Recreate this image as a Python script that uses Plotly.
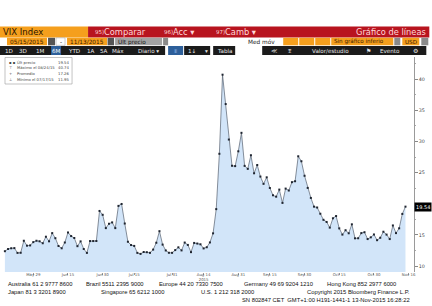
import pandas as pd
import plotly.graph_objects as go

# ---------------- data ----------------
holidays = ["2015-05-25", "2015-07-03", "2015-09-07"]
dates = [d for d in pd.bdate_range("2015-05-15", "2015-11-13").strftime("%Y-%m-%d") if d not in holidays]

vix = [
    12.38, 12.73, 12.85, 12.88, 12.11, 12.13, 14.06, 13.27, 13.31, 13.84,
    14.06, 13.97, 13.66, 14.71, 13.97, 15.29, 14.47, 13.22, 12.85, 13.78,
    15.39, 14.81, 14.50, 13.19, 13.96, 12.74, 12.11, 14.01, 14.01, 14.02,
    18.85, 18.23,
    16.09, 16.79, 17.01, 16.09, 19.66, 19.97, 16.83, 13.90, 13.37, 13.23,
    12.11, 11.95, 12.25, 12.22, 12.12, 12.64, 13.74, 15.60, 13.44, 12.50,
    12.13, 12.12,
    12.56, 13.00, 12.51, 13.77, 13.39, 12.23, 13.71, 13.61, 13.49, 12.83,
    13.02, 13.79, 15.25, 19.14, 28.03, 40.74, 36.02, 30.32, 26.10, 26.05,
    28.43,
    31.40, 26.09, 25.61, 27.80, 24.90, 26.23, 24.37, 23.20, 24.25, 22.54,
    21.35, 21.14, 22.28, 20.14, 22.44, 22.13, 23.47, 23.62, 27.63, 26.83,
    24.50,
    22.55, 20.94, 19.54, 19.40, 18.40, 17.42, 17.08, 16.17, 17.67, 18.03,
    16.05, 15.05, 15.75, 15.26, 16.70, 14.45, 14.46, 15.29, 15.43, 14.33,
    14.61, 15.07,
    14.15, 14.54, 15.51, 15.05, 14.33, 16.52, 15.29, 16.06, 18.37, 19.54,
]

tick_dates = ["2015-05-29", "2015-06-15", "2015-06-30", "2015-07-15", "2015-07-31", "2015-08-14",
              "2015-08-31", "2015-09-15", "2015-09-30", "2015-10-15", "2015-10-30", "2015-11-16"]
tick_text = ["May 29", "Jun 15", "Jun 30", "Jul 15", "Jul 31", "Aug 14<br>2015",
             "Aug 31", "Sep 15", "Sep 30", "Oct 15", "Oct 30", "Nov 16"]
y_ticks = [10, 15, 20, 25, 30, 35, 40]
y_tick_text = ["10", "15", "", "25", "30", "35", "40"]   # "20" is hidden under the last-price tag

last_price = "19.54"
legend_rows = [("▪ ▪", "Últ precio", "19.54"),
               ("⊤", "Máximo el 08/24/15", "40.74"),
               ("+", "Promedio", "17.26"),
               ("⊥", "Mínimo el 07/17/15", "11.95")]

footer1 = [("Australia 61 2 9777 8600", 7), ("Brazil 5511 2395 9000", 85),
           ("Europe 44 20 7330 7500", 158), ("Germany 49 69 9204 1210", 243),
           ("Hong Kong 852 2977 6000", 326)]
footer2 = [("Japan 81 3 3201 8900", 7), ("Singapore 65 6212 1000", 100),
           ("U.S. 1 212 318 2000", 200), ("Copyright 2015 Bloomberg Finance L.P.", 306)]
footer3 = "SN 802847 CET  GMT+1:00 H191-1441-1 13-Nov-2015 16:28:22"

# ---------------- layout helpers ----------------
W, H = 432, 306
L, R, T, B = 3, 18.3, 57, 34
PW, PH = W - L - R, H - T - B


def px(x):
    return (x - L) / PW


def py(y):
    return (H - B - y) / PH


shapes = []
annotations = []


def rect(x0, y0, x1, y1, color, line=None):
    shapes.append(dict(type="rect", xref="paper", yref="paper",
                       x0=px(x0), x1=px(x1), y0=py(y1), y1=py(y0),
                       fillcolor=color, line=dict(width=0) if line is None else line,
                       layer="above"))


def text(x, y, s, size=6, color="#000", anchor="left", family="DejaVu Sans", bg=None):
    a = dict(xref="paper", yref="paper", x=px(x), y=py(y), text=s, showarrow=False,
             xanchor=anchor, yanchor="middle",
             font=dict(size=size, color=color, family=family), borderpad=0)
    if bg:
        a["bgcolor"] = bg
    annotations.append(a)


ORANGE = "#f59f1d"
RED = "#b8141f"
DARK = "#1b1b1b"
PINK = "#ffd9d9"

# Row 1
rect(0, 26.5, 88, 37.5, ORANGE)
rect(88, 26.5, 429, 37.5, RED)
text(2, 32, "VIX Index", 8.5, "#2a1400")
text(94, 32, "95)", 5.5, PINK)
text(103, 32, "Comparar", 8.3, PINK)
text(163, 32, "96)", 5.5, PINK)
text(172, 32, "Acc ▾", 8.3, PINK)
text(215, 32, "97)", 5.5, PINK)
text(224, 32, "Camb ▾", 8.3, PINK)
text(427, 32, "Gráfico de líneas", 8.3, PINK, anchor="right")

# Row 2
rect(7, 37.8, 47, 45.3, ORANGE)
text(27, 41.5, "05/15/2015", 5.8, "#3a1a00", anchor="center")
rect(48, 37.8, 55, 45.3, "#555555")
rect(56, 37.8, 65, 45.3, "#ffffff", line=dict(width=0.5, color="#999"))
text(60.5, 41.5, "-", 5.8, "#000", anchor="center")
rect(67, 37.8, 107, 45.3, ORANGE)
text(87, 41.5, "11/13/2015", 5.8, "#3a1a00", anchor="center")
rect(107.5, 37.8, 114, 45.3, "#555555")
rect(115, 37.8, 162, 45.3, "#a3a3a3")
text(117, 41.5, "Últ precio", 5.8, "#111")
rect(163, 37.8, 168, 45.3, "#8a8a8a")
text(276, 41.5, "Med móv", 5.8, "#222", anchor="right")
for x0, x1 in [(283, 298), (299, 314), (315, 330)]:
    rect(x0, 37.8, x1, 45.3, ORANGE)
rect(331, 37.8, 393, 45.3, ORANGE)
text(333, 41.5, "Sin gráfico inferio", 5.6, "#3a1a00")
rect(394, 37.8, 400, 45.3, "#8a8a8a")
rect(402, 37.8, 419, 45.3, ORANGE)
text(410.5, 41.5, "USD", 5.6, "#3a1a00", anchor="center")
rect(421, 37.8, 428, 45.3, "#8a8a8a")

# Row 3
rect(0, 46, 165, 55, DARK)
rect(51, 46, 61, 55, "#2d5f9a")
for s, x in [("1D", 9), ("3D", 23), ("1M", 40), ("6M", 56), ("YTD", 74), ("1A", 91), ("5A", 104),
             ("Máx", 118), ("Diario ▾", 148)]:
    text(x, 50.5, s, 5.6, "#e8e8e8" if s != "6M" else "#ffffff", anchor="center")
rect(168, 46, 183, 55, "#2d5f9a")
text(175.5, 50.5, "⩨", 5.6, "#8fb6e6", anchor="center")
rect(184, 46, 210, 55, DARK)
text(192, 50.5, "1↓", 5.6, "#e8e8e8", anchor="center")
text(206, 50.5, "▾", 5.6, "#e8e8e8", anchor="center")
rect(213, 46, 235, 55, DARK)
text(224, 50.5, "Tabla", 5.6, "#e8e8e8", anchor="center")
rect(262, 46, 426, 55, DARK)
text(274, 50.5, "≪", 6, "#e8e8e8", anchor="center")
text(290, 50.5, "⩨", 6, "#e8e8e8", anchor="center")
text(330, 50.5, "Valor/estudio", 5.6, "#e8e8e8", anchor="center")
text(368, 50.5, "⚑", 6, "#e8e8e8", anchor="center")
text(390, 50.5, "Evento", 5.6, "#e8e8e8", anchor="center")
text(415, 50.5, "⚙", 6, "#e8e8e8", anchor="center")

# Legend box
shapes.append(dict(type="rect", xref="paper", yref="paper", x0=px(5), x1=px(72), y0=py(84), y1=py(57.5),
                   fillcolor="#ffffff", line=dict(width=0.6, color="#9a9a9a"), layer="above"))
for i, (ic, lab, val) in enumerate(legend_rows):
    yy = 62.3 + i * 5.6
    text(8, yy, ic, 3.8, "#444")
    text(16, yy, lab, 3.8, "#444")
    text(70, yy, val, 3.8, "#444", anchor="right")

# Last price tag
annotations.append(dict(xref="paper", yref="y", x=1.0, y=float(last_price), text=last_price,
                        showarrow=False, xanchor="left", yanchor="middle", bgcolor="#000000",
                        font=dict(size=5, color="#ffffff", family="DejaVu Sans"), borderpad=1))

# Footer
for s, x in footer1:
    text(x, 283.5, s, 5.8, "#111", family="Liberation Sans")
for s, x in footer2:
    text(x, 291.7, s, 5.8, "#111", family="Liberation Sans")
text(411, 300, footer3, 5.8, "#111", anchor="right", family="Liberation Sans")

# ---------------- figure ----------------
fig = go.Figure()
fig.add_trace(go.Scatter(
    x=dates, y=vix, mode="lines+markers",
    line=dict(color="#56606e", width=0.7),
    marker=dict(symbol="square", size=2, color="#1f2530"),
    fill="tozeroy", fillcolor="#d2e5f9",
    hoverinfo="skip", showlegend=False,
))

fig.update_layout(
    width=W, height=H,
    margin=dict(l=L, r=R, t=T, b=B, pad=0),
    paper_bgcolor="#ffffff", plot_bgcolor="#ffffff",
    shapes=shapes, annotations=annotations,
    showlegend=False,
    xaxis=dict(
        type="date",
        range=["2015-05-14 09:36", "2015-11-17 16:48"],
        rangebreaks=[dict(bounds=["sat", "mon"]), dict(values=holidays)],
        tickvals=tick_dates, ticktext=tick_text,
        tickfont=dict(size=3.9, color="#555", family="DejaVu Sans"),
        ticks="outside", ticklen=1.5, tickcolor="#999", tickwidth=0.6,
        ticklabelstandoff=-3,
        showgrid=False, zeroline=False, showline=False,
        fixedrange=True,
    ),
    yaxis=dict(
        side="right",
        range=[9.04, 43.58],
        tickvals=y_ticks,
        ticktext=y_tick_text,
        tickfont=dict(size=4.8, color="#444", family="DejaVu Sans"),
        ticks="outside", ticklen=3, tickcolor="#888", tickwidth=0.6,
        minor=dict(tickvals=[12.5, 17.5, 22.5, 27.5, 32.5, 37.5, 42.5], ticks="outside",
                   ticklen=1.5, tickcolor="#aaa"),
        showgrid=False, zeroline=False,
        showline=True, linecolor="#9a9a9a", linewidth=0.6,
        fixedrange=True,
    ),
)

fig.write_html("out.html")
